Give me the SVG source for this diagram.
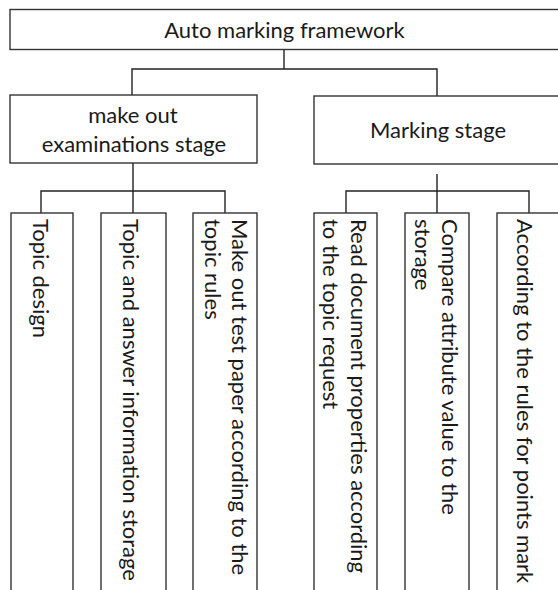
<svg xmlns="http://www.w3.org/2000/svg" width="558" height="590" viewBox="0 0 558 590">
<style>
.box{fill:#fff;stroke:#333;stroke-width:1.4}
.con{fill:none;stroke:#222;stroke-width:1.4}
text{font-family:Lato,"Liberation Sans",sans-serif;font-size:22px;fill:#1a1a1a}
.c{text-anchor:middle}
</style>
<rect width="558" height="590" fill="#fff"/>
<g id="connectors">
<path class="con" d="M284,49.5V69M132,95V69H437V96"/>
<path class="con" d="M133,163V213M41,213V191H225V213"/>
<path class="con" d="M437,174V213M346,213V191H529V213"/>
</g>
<g id="root"><rect class="box" x="10" y="9.5" width="550" height="40"/><text class="c" x="284.5" y="37.5">Auto marking framework</text></g>
<g id="exam"><rect class="box" x="10" y="95" width="247" height="68"/><text class="c" x="133" y="123">make out</text><text class="c" x="134" y="152">examinations stage</text></g>
<g id="marking"><rect class="box" x="314" y="96" width="248" height="68"/><text class="c" x="438" y="138">Marking stage</text></g>
<g id="c1"><rect class="box" x="11" y="213" width="62" height="400"/><text transform="translate(33,219) rotate(90)">Topic design</text></g>
<g id="c2"><rect class="box" x="101" y="213" width="65" height="400"/><text transform="translate(123,219) rotate(90)">Topic and answer information storage</text></g>
<g id="c3"><rect class="box" x="193" y="213" width="64" height="400"/><text transform="translate(232,219) rotate(90)">Make out test paper according to the</text><text transform="translate(205,219) rotate(90)">topic rules</text></g>
<g id="c4"><rect class="box" x="314" y="213" width="63" height="400"/><text transform="translate(351,219) rotate(90)">Read document properties according</text><text transform="translate(323,219) rotate(90)">to the topic request</text></g>
<g id="c5"><rect class="box" x="405" y="213" width="64" height="400"/><text transform="translate(442,219) rotate(90)">Compare attribute value to the</text><text transform="translate(415,219) rotate(90)">storage</text></g>
<g id="c6"><rect class="box" x="497" y="213" width="64" height="400"/><text transform="translate(517,219) rotate(90)">According to the rules for points mark</text></g>
</svg>
